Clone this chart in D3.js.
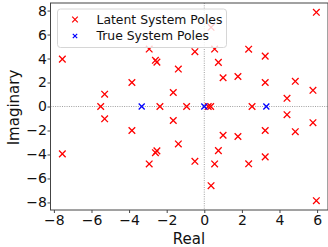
<!DOCTYPE html>
<html>
<head>
<meta charset="utf-8">
<script src="https://cdn.jsdelivr.net/npm/d3@7"></script>
<style>
  html, body { margin: 0; padding: 0; background: #fff; }
  svg { display: block; font-family: "DejaVu Sans", sans-serif; }
</style>
</head>
<body>
<svg id="chart" width="328" height="247"></svg>
<script>
// ---- data ----
const latentReal = [-7.55, -7.55, -5.3, -5.3, -3.85, -3.85, 0.36, 0.36, -2.93, -2.93,
  -2.6, -2.6, -2.52, -2.52, -1.38, -1.38, -0.5, -0.5, 0.55, 0.55,
  0.75, 0.75, 1.0, 1.0, -1.65, -1.65, 5.96, 5.96, 2.36, 2.36,
  3.24, 3.24, 1.79, 1.79, 3.24, 3.24, 4.84, 4.84, 5.78, 5.78,
  4.4, 4.4, -5.51, -2.36, -0.94, 0.21, 0.34, 2.54];
const latentImag = [3.95, -3.95, 1.03, -1.03, 2.0, -2.0, 6.6, -6.6, 4.79, -4.79,
  3.85, -3.85, 3.7, -3.7, 3.12, -3.12, 4.57, -4.57, 4.79, -4.79,
  3.68, -3.68, 2.4, -2.4, 1.17, -1.17, 7.85, -7.85, 4.78, -4.78,
  4.2, -4.2, 2.5, -2.5, 2.0, -2.0, 2.1, -2.1, 1.35, -1.35,
  0.68, -0.68, 0, 0, 0, 0, 0, 0];
const trueReal = [-3.33, 0.0, 3.3];
const trueImag = [0, 0, 0];
const xTicks = [-8, -6, -4, -2, 0, 2, 4, 6];
const yTicks = [-8, -6, -4, -2, 0, 2, 4, 6, 8];
const seriesLabels = ["Latent System Poles", "True System Poles"];
const seriesColors = ["#ff0000", "#0000ff"];

// ---- layout ----
const L = 50.5, R = 328, T = 3, B = 210;
const svg = d3.select("#chart");
const x = d3.scaleLinear().domain([-8.18, 6.58]).range([L, R]);
const y = d3.scaleLinear().domain([-8.63, 8.63]).range([B, T]);

// zero lines
svg.append("line").attr("x1", L).attr("x2", R).attr("y1", y(0)).attr("y2", y(0))
  .attr("stroke", "#888").attr("stroke-width", 0.8).attr("stroke-dasharray", "1,1.3");
svg.append("line").attr("y1", T).attr("y2", B).attr("x1", x(0)).attr("x2", x(0))
  .attr("stroke", "#888").attr("stroke-width", 0.8).attr("stroke-dasharray", "1,1.3");

function drawX(g, cx, cy, s, color, w) {
  g.append("path")
    .attr("d", `M${cx - s},${cy - s}L${cx + s},${cy + s}M${cx - s},${cy + s}L${cx + s},${cy - s}`)
    .attr("stroke", color).attr("stroke-width", w).attr("fill", "none");
}

const marks = svg.append("g");
latentReal.forEach((r, i) => drawX(marks, x(r), y(latentImag[i]), 3.3, seriesColors[0], 1.3));
trueReal.forEach((r, i) => drawX(marks, x(r), y(trueImag[i]), 3.0, seriesColors[1], 1.3));

// axes
const gx = svg.append("g").attr("transform", `translate(0,${B})`)
  .call(d3.axisBottom(x).tickValues(xTicks).tickSize(3).tickPadding(2.5).tickFormat(d3.format("")));
const gy = svg.append("g").attr("transform", `translate(${L},0)`)
  .call(d3.axisLeft(y).tickValues(yTicks).tickSize(3).tickPadding(0.5).tickFormat(d3.format("")));
[gx, gy].forEach(g => {
  g.select(".domain").remove();
  g.selectAll(".tick line").attr("stroke", "#444");
  g.selectAll(".tick text").attr("font-size", 14).attr("fill", "#111")
    .attr("font-family", "DejaVu Sans");
});

// frame
svg.append("rect").attr("x", L).attr("y", T).attr("width", R - L).attr("height", B - T)
  .attr("fill", "none").attr("stroke", "#444").attr("stroke-width", 1);

// axis labels
svg.append("text").attr("x", 189).attr("y", 244).attr("text-anchor", "middle")
  .attr("font-size", 15).attr("fill", "#111").text("Real");
svg.append("text").attr("transform", "translate(19,107.5) rotate(-90)").attr("text-anchor", "middle")
  .attr("font-size", 15).attr("fill", "#111").text("Imaginary");

// legend
const lg = svg.append("g");
lg.append("rect").attr("x", 57.5).attr("y", 9).attr("width", 169).attr("height", 38.5)
  .attr("rx", 3).attr("fill", "#fff").attr("fill-opacity", 0.8)
  .attr("stroke", "#d6d6d6").attr("stroke-width", 1);
const rowsY = [19.5, 36];
drawX(lg, 75, rowsY[0], 2.8, seriesColors[0], 1.2);
drawX(lg, 75, rowsY[1], 2.2, seriesColors[1], 1.2);
seriesLabels.forEach((t, i) => {
  lg.append("text").attr("x", 96.5).attr("y", rowsY[i]).attr("dy", "0.35em")
    .attr("font-size", 12.4).attr("fill", "#111").text(t);
});
</script>
</body>
</html>
